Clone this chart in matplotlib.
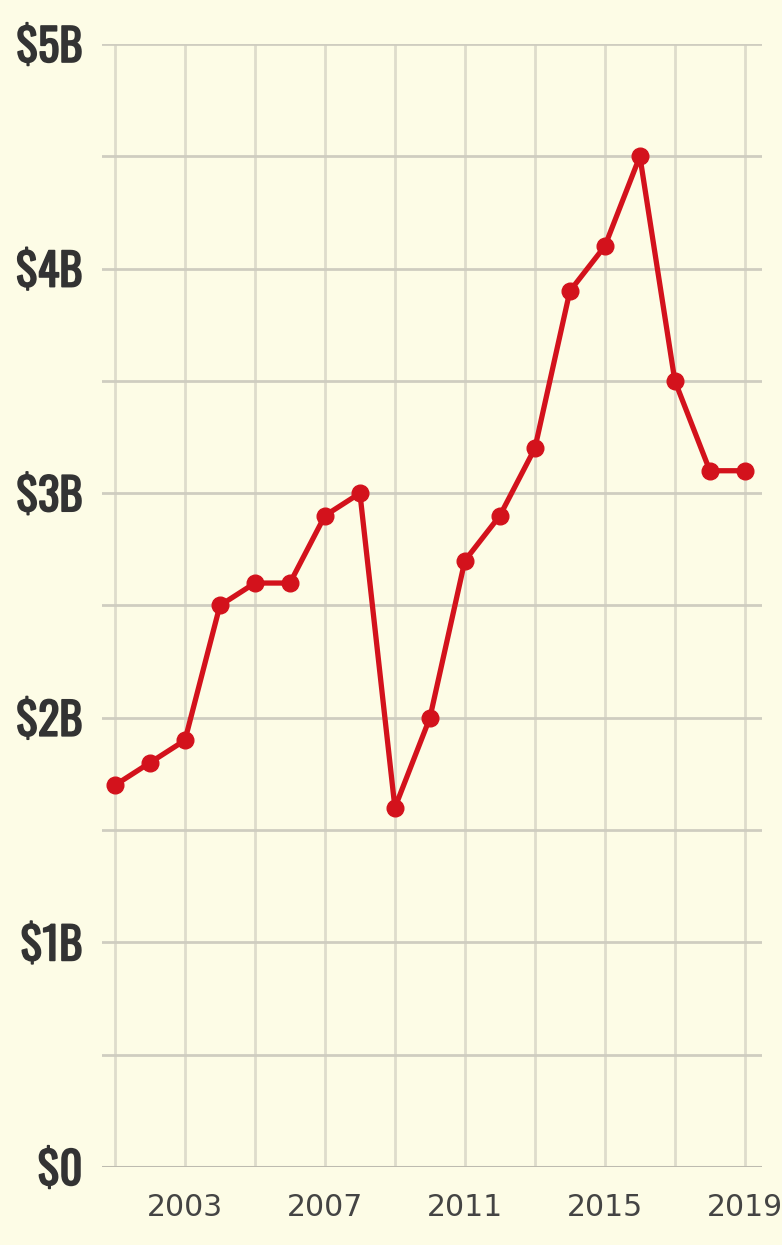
import matplotlib
matplotlib.use("Agg")
import matplotlib.pyplot as plt
import matplotlib.patheffects as pe
from matplotlib import font_manager
from matplotlib.ticker import FixedLocator

years = list(range(2001, 2020))
values = [1.7, 1.8, 1.9, 2.5, 2.6, 2.6, 2.9, 3.0, 1.6, 2.0, 2.7, 2.9, 3.2, 3.9, 4.1, 4.5, 3.5, 3.1, 3.1]
y_ticks = [0, 1, 2, 3, 4, 5]
y_labels = ["$0", "$1B", "$2B", "$3B", "$4B", "$5B"]
x_label_years = [2003, 2007, 2011, 2015, 2019]

names = {f.name for f in font_manager.fontManager.ttflist}
narrow = "DejaVu Sans"
for cand in ["Oswald", "Barlow Condensed", "Asap Condensed", "Archivo Narrow"]:
    if cand in names:
        narrow = cand
        break

bg = "#fdfce6"
W, H = 782, 1245
fig = plt.figure(figsize=(W / 100, H / 100), dpi=100, facecolor=bg)
ax = fig.add_axes([102 / W, 1 - 1167 / H, (762 - 102) / W, (1167 - 44) / H], facecolor=bg)

ax.set_xlim(2000.63, 2019.49)
ax.set_ylim(0, 5)

ax.yaxis.set_major_locator(FixedLocator(y_ticks))
ax.xaxis.set_major_locator(FixedLocator(x_label_years))
for y in [i * 0.5 for i in range(1, 11)]:
    ax.axhline(y, color="#cfcdc0", lw=2, zorder=1)
for x in range(2001, 2020, 2):
    ax.axvline(x, color="#dedccc", lw=2, zorder=0.5)
ax.axhline(0, color="#bdbbb0", lw=2.2, zorder=1)

for s in ax.spines.values():
    s.set_visible(False)
ax.tick_params(axis="both", which="both", length=0)
ax.set_yticklabels(y_labels, fontsize=32, fontweight="bold", family=narrow, color="#333333")
for t in ax.get_yticklabels():
    t.set_path_effects([pe.withStroke(linewidth=1.2, foreground="#333333")])
ax.tick_params(axis="y", pad=14)
ax.set_xticklabels([str(y) for y in x_label_years], fontsize=21.5, color="#444444", family="DejaVu Sans")
ax.tick_params(axis="x", pad=19)

ax.plot(years, values, color="#d3121c", lw=3.8, marker="o", markersize=12,
        zorder=3, solid_joinstyle="round", clip_on=False)

fig.savefig("out.png", dpi=100, facecolor=bg)
